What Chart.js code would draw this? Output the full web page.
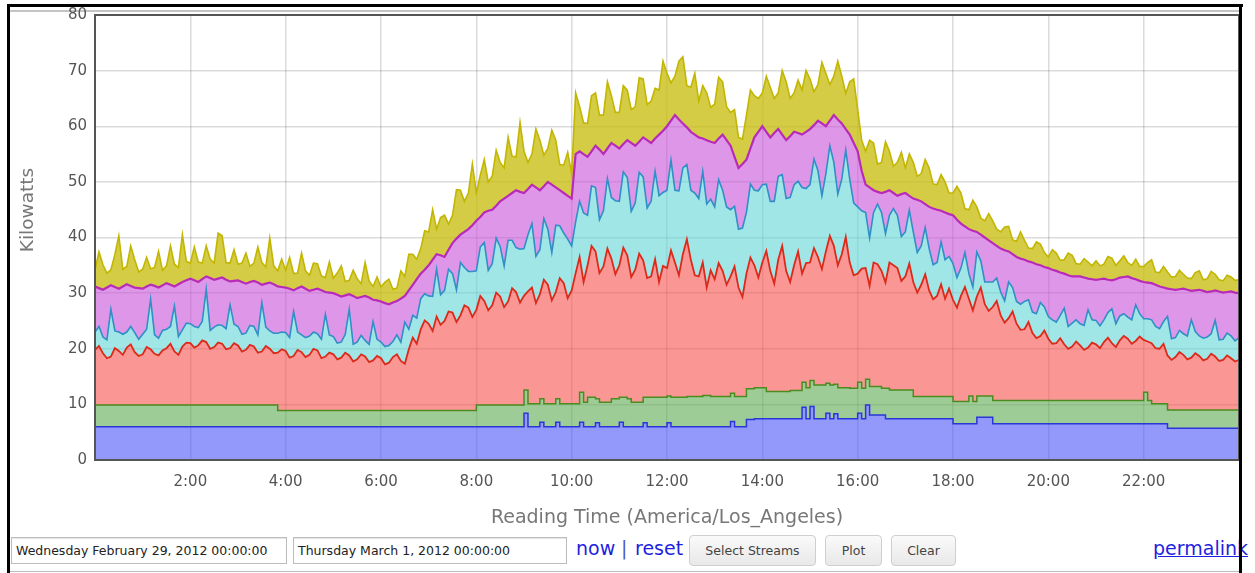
<!DOCTYPE html>
<html>
<head>
<meta charset="utf-8">
<script src="https://cdn.jsdelivr.net/npm/chart.js@4.4.1/dist/chart.umd.min.js"></script>
<style>
  body { margin: 0; background: #fff; width: 1255px; height: 573px; overflow: hidden; position: relative; font-family: "DejaVu Sans", sans-serif; }
  .bar { position: absolute; background: #000; z-index: 5; }
  #chartBox { position: absolute; left: 12px; top: 2px; }
  .field { position: absolute; top: 537px; height: 27px; box-sizing: border-box; border: 1px solid #bdbdbd; box-shadow: inset 0 1px 1px #e4e4e4;
           font: 12.5px "DejaVu Sans"; color: #222; padding: 0 0 0 4px; line-height: 25px; white-space: nowrap; overflow: hidden; }
  .lnk { position: absolute; top: 539px; font: 19px/19px "DejaVu Sans"; color: #1f1fe0; }
  .btn { position: absolute; top: 535px; height: 31px; box-sizing: border-box; border: 1px solid #cfcfcf; border-radius: 4px;
         background: linear-gradient(#fafafa, #e8e8e8); font: 12.5px "DejaVu Sans"; color: #444; display: flex; align-items: center; justify-content: center; }
</style>
</head>
<body>
<div class="bar" style="left:7px; top:4px; width:3px; height:569px;"></div>
<div class="bar" style="left:7px; top:4px; width:1236px; height:3px;"></div>
<div class="bar" style="left:1239px; top:4px; width:3px; height:569px;"></div>
<div style="position:absolute; left:10px; top:10px; width:1229px; height:2px; background:#c4c4c4;"></div>
<div style="position:absolute; left:10px; top:571px; width:1229px; height:1px; background:#bdbdbd;"></div>

<div id="chartBox"><canvas id="kwCanvas" width="1228" height="530"></canvas></div>

<div class="field" style="left:11px; width:276px;">Wednesday February 29, 2012 00:00:00</div>
<div class="field" style="left:293px; width:274px;">Thursday March 1, 2012 00:00:00</div>
<div class="lnk" style="left:576px;">now</div>
<div class="lnk" style="left:621px; color:#4a5bbf;">|</div>
<div class="lnk" style="left:635px;">reset</div>
<div class="btn" style="left:689px; width:127px;">Select Streams</div>
<div class="btn" style="left:825px; width:57px;">Plot</div>
<div class="btn" style="left:891px; width:65px;">Clear</div>
<div class="lnk" style="left:1153px; text-decoration:underline;">permalink</div>

<script>
// readings every 5 minutes, 00:00 -> 24:00 (289 samples per stream), kW
// one line per hour (12 readings)
var stepMinutes = 5;
var hours = [];
for (var i = 0; i <= 288; i++) hours.push(i * stepMinutes / 60);

var xTicks = [2, 4, 6, 8, 10, 12, 14, 16, 18, 20, 22];

var stream1 = [ // blue
  6,6,6,6,6,6,6,6,6,6,6,6,
  6,6,6,6,6,6,6,6,6,6,6,6,
  6,6,6,6,6,6,6,6,6,6,6,6,
  6,6,6,6,6,6,6,6,6,6,6,6,
  6,6,6,6,6,6,6,6,6,6,6,6,
  6,6,6,6,6,6,6,6,6,6,6,6,
  6,6,6,6,6,6,6,6,6,6,6,6,
  6,6,6,6,6,6,6,6,6,6,6,6,
  6,6,6,6,6,6,6,6,6,6,6,6,
  8.4,6,6,6,6.8,6,6,6,6.8,6,6,6,
  6,6,6.8,6,6,6,6.7,6,6,6,6,6,
  6.8,6,6,6,6,6,6.7,6,6,6,6,6,
  6.7,6,6,6,6,6,6,6,6,6,6,6,
  6,6,6,6,6.9,6,6,6,7.3,7.3,7.4,7.4,
  7.4,7.4,7.4,7.4,7.4,7.4,7.4,7.4,7.4,7.4,9.5,7.4,
  9.6,7.4,7.4,7.4,8.4,7.4,8.3,7.4,7.4,7.4,7.4,7.4,
  8.4,7.4,9.9,8.1,8.1,8.1,8.1,7.4,7.4,7.4,7.4,7.4,
  7.4,7.4,7.4,7.4,7.4,7.4,7.4,7.4,7.4,7.4,7.4,7.4,
  6.5,6.5,6.5,6.5,6.5,6.5,7.7,7.7,7.7,7.7,6.5,6.5,
  6.5,6.5,6.5,6.5,6.5,6.5,6.5,6.5,6.5,6.5,6.5,6.5,
  6.5,6.5,6.5,6.5,6.5,6.5,6.5,6.5,6.5,6.5,6.5,6.5,
  6.5,6.5,6.5,6.5,6.5,6.5,6.5,6.5,6.5,6.5,6.5,6.5,
  6.5,6.5,6.5,6.5,6.5,6.5,5.7,5.7,5.7,5.7,5.7,5.7,
  5.7,5.7,5.7,5.7,5.7,5.7,5.7,5.7,5.7,5.7,5.7,5.7,
  5.7
];
var stream2 = [ // green
  3.9,3.9,3.9,3.9,3.9,3.9,3.9,3.9,3.9,3.9,3.9,3.9,
  3.9,3.9,3.9,3.9,3.9,3.9,3.9,3.9,3.9,3.9,3.9,3.9,
  3.9,3.9,3.9,3.9,3.9,3.9,3.9,3.9,3.9,3.9,3.9,3.9,
  3.9,3.9,3.9,3.9,3.9,3.9,3.9,3.9,3.9,3.9,2.9,2.9,
  2.9,2.9,2.9,2.9,2.9,2.9,2.9,2.9,2.9,2.9,2.9,2.9,
  2.9,2.9,2.9,2.9,2.9,2.9,2.9,2.9,2.9,2.9,2.9,2.9,
  2.9,2.9,2.9,2.9,2.9,2.9,2.9,2.9,2.9,2.9,2.9,2.9,
  2.9,2.9,2.9,2.9,2.9,2.9,2.9,2.9,2.9,2.9,2.9,2.9,
  3.9,3.9,3.9,3.9,3.9,3.9,3.9,3.9,3.9,3.9,3.9,3.9,
  4.2,4.1,4.1,4.1,4.2,4.1,4.1,4.1,4.2,4.1,4.1,4.1,
  4.1,4.1,5.4,4.4,5.3,5.3,4.3,4.4,4.4,4.4,5.0,5.0,
  4.5,5.3,5.0,4.4,4.4,4.4,4.6,5.3,5.3,5.3,5.3,5.3,
  4.8,5.3,5.3,5.3,5.3,5.4,5.4,5.4,5.4,5.6,5.6,5.4,
  5.4,5.4,5.4,5.4,5.1,5.4,5.4,5.4,5.5,5.5,5.6,5.6,
  5.6,4.9,4.9,4.9,4.9,4.9,4.9,5.1,5.1,5.1,4.5,5.6,
  4.7,6.1,6.1,6.1,5.4,6.1,5.3,5.6,5.6,5.6,5.5,5.5,
  5.6,5.5,4.6,5.1,5.1,5.1,4.8,5.5,5.2,5.2,5.2,5.2,
  5.2,5.2,4.0,4.0,4.0,4.0,4.0,4.0,4.0,4.0,4.0,4.0,
  4.0,4.0,4.0,4.0,5.0,4.0,3.8,3.8,3.8,3.8,4.2,4.2,
  4.2,4.2,4.2,4.2,4.2,4.2,4.2,4.2,4.2,4.2,4.2,4.2,
  4.2,4.2,4.2,4.2,4.2,4.2,4.2,4.2,4.2,4.2,4.2,4.2,
  4.2,4.2,4.2,4.2,4.2,4.2,4.2,4.2,4.2,4.2,4.2,4.2,
  5.7,4.2,3.6,3.6,3.6,3.6,3.3,3.3,3.3,3.3,3.3,3.3,
  3.3,3.3,3.3,3.3,3.3,3.3,3.3,3.3,3.3,3.3,3.3,3.3,
  3.3
];
var stream3 = [ // red
  9.9,10.6,9.3,8.4,8.7,10.2,9.7,9.0,10.3,10.9,9.5,8.8,
  9.1,10.4,10.0,9.2,8.9,9.8,10.2,11.0,9.6,9.0,10.5,11.2,
  11.1,10.3,10.7,11.6,11.3,10.1,10.4,11.2,11.0,10.0,10.2,11.1,
  10.7,9.6,9.9,10.8,10.5,9.4,9.6,10.6,10.1,9.3,10.4,11.0,
  10.7,9.5,9.8,10.9,10.5,9.6,10.0,11.1,10.8,9.4,9.7,10.4,
  10.1,9.2,9.5,10.4,9.9,8.8,9.2,10.1,9.7,8.7,9.0,9.8,
  9.4,8.3,8.6,9.6,10.1,8.9,8.4,11.0,13.1,12.0,14.6,16.2,
  15.6,14.3,16.9,15.4,16.1,17.8,17.6,15.9,17.1,18.9,18.5,16.8,
  17.1,19.6,18.7,17.0,17.9,20.2,19.5,17.6,18.6,21.0,20.3,18.4,
  16.9,20.2,20.9,18.1,18.8,22.3,21.4,18.6,19.2,22.6,21.7,19.0,
  20.4,23.5,24.3,21.6,23.7,27.2,26.5,23.2,24.4,27.6,25.2,22.4,
  23.7,26.9,25.8,22.5,23.8,26.7,24.6,21.4,21.7,24.8,20.7,23.6,
  23.0,26.4,24.2,21.9,25.7,28.3,24.6,21.8,21.6,23.9,19.4,22.7,
  21.1,24.0,22.6,20.1,21.0,23.4,19.6,17.9,20.7,23.6,22.0,19.8,
  22.5,25.3,21.7,19.4,23.7,26.2,21.7,19.5,22.5,25.0,19.5,22.4,
  21.2,24.6,23.0,20.8,23.7,26.8,24.9,22.0,24.0,27.1,22.6,20.3,
  19.5,21.5,20.0,18.1,22.3,22.0,21.1,19.0,22.9,22.4,21.9,19.6,
  20.4,22.7,20.6,18.7,20.1,22.0,19.1,17.5,18.1,20.2,17.6,19.4,
  18.3,16.9,19.0,20.6,17.5,16.4,17.9,19.5,16.5,15.3,16.8,17.9,
  15.3,14.0,14.8,16.0,13.8,12.7,12.8,14.1,12.1,11.2,11.6,12.6,
  11.1,10.2,10.3,11.2,10.1,9.3,9.7,10.6,9.9,9.1,9.5,10.4,
  10.1,9.4,10.5,11.3,10.3,9.6,10.8,11.6,11.1,10.2,10.7,11.5,
  9.4,10.6,10.9,10.0,9.9,10.8,9.8,9.0,9.5,10.4,9.9,9.1,
  9.4,10.2,9.7,8.9,9.2,10.1,9.6,8.8,9.0,9.8,9.3,8.7,
  9.0
];
var stream4 = [ // cyan
  3.2,3.5,2.9,3.3,8.5,3.1,3.4,3.7,2.8,3.2,3.5,3.0,
  3.6,3.2,9.0,3.4,3.1,3.6,3.4,3.1,8.2,3.3,3.0,3.5,
  3.5,3.8,3.2,3.4,9.5,3.3,3.6,3.2,3.3,3.7,7.8,3.4,
  3.4,3.1,3.0,3.5,3.6,3.2,8.8,3.4,3.2,3.6,3.5,3.1,
  3.3,3.6,8.0,3.2,3.1,3.5,3.4,3.0,3.0,3.4,7.6,3.2,
  3.2,2.9,2.8,3.3,8.3,3.1,3.1,3.4,2.9,3.2,7.0,3.0,
  2.9,3.2,3.1,2.8,3.5,3.4,7.5,3.6,4.0,4.6,5.5,4.8,
  5.0,6.2,8.5,5.4,5.5,7.6,7.0,5.8,9.5,6.8,6.5,8.2,
  7.0,8.8,10.5,7.2,7.5,9.8,9.0,7.4,11.0,8.6,8.0,9.6,
  8.5,10.2,11.5,8.4,8.0,11.0,10.0,8.6,12.0,9.4,9.0,10.6,
  8.0,9.2,10.0,12.4,9.0,10.8,11.5,9.6,10.0,12.6,11.0,13.2,
  11.5,13.6,14.0,11.8,12.0,14.6,15.0,12.6,13.5,15.8,15.5,13.2,
  14.0,16.2,13.0,15.2,15.5,13.4,12.5,14.8,14.0,16.4,15.0,12.8,
  13.0,15.0,14.5,14.0,12.0,10.8,10.5,12.4,11.0,13.2,13.5,15.6,
  14.0,12.0,12.5,14.8,15.0,12.8,13.0,15.2,14.5,12.6,15.5,13.4,
  14.0,16.0,15.5,13.2,14.0,16.2,15.0,12.8,13.5,15.6,15.0,13.0,
  12.0,10.4,10.0,8.6,9.0,10.8,10.5,8.8,8.5,10.2,9.5,8.0,
  8.0,9.6,9.0,7.2,7.0,8.4,7.5,6.2,6.0,7.6,7.0,5.8,
  6.5,5.4,5.0,6.2,4.5,4.2,8.0,4.8,4.0,5.2,4.5,4.1,
  4.2,3.9,6.5,4.3,4.0,4.6,5.0,4.0,3.8,4.4,6.0,4.2,
  4.0,4.3,3.8,4.1,6.5,4.0,4.2,3.9,3.9,4.4,6.8,4.1,
  4.3,4.0,4.0,4.5,6.2,4.2,4.4,4.0,3.9,4.3,6.5,4.1,
  3.8,4.1,4.2,3.9,3.6,4.0,7.0,3.8,3.5,3.9,3.8,4.2,
  6.8,3.9,3.6,4.0,3.9,3.6,6.5,3.8,3.7,4.0,4.0,3.7,
  4.0
];
var stream5 = [ // violet
  8.2,6.9,8.5,9.4,4.3,7.9,7.8,8.6,8.6,7.3,8.1,9.2,
  8.2,7.7,2.6,8.8,9.1,8.1,8.3,7.5,3.5,9.4,8.6,7.7,
  8.1,8.3,8.2,7.6,2.3,9.4,8.5,8.3,8.6,8.8,4.2,7.8,
  8.3,9.4,8.9,7.8,8.2,9.4,3.2,7.8,8.7,8.8,8.4,8.1,
  8.1,8.8,3.8,7.9,8.7,8.8,8.1,7.6,8.1,8.8,4.0,7.6,
  7.8,8.7,8.2,7.0,2.7,8.7,7.9,6.9,8.0,8.4,3.9,7.0,
  7.3,7.8,7.4,7.0,6.1,7.8,4.7,7.0,5.5,7.0,4.5,4.3,
  5.5,6.6,2.7,7.1,6.0,3.5,5.5,9.2,5.0,6.4,7.6,8.3,
  9.0,5.4,5.4,10.7,9.7,5.8,8.1,12.1,8.0,8.5,10.3,10.3,
  10.0,8.2,7.0,12.4,10.7,5.8,8.5,12.2,6.8,6.4,7.2,7.8,
  8.5,12.2,9.0,10.6,10.5,6.2,7.5,12.6,10.2,5.4,9.8,9.9,
  9.5,5.0,6.7,12.3,10.3,5.5,7.1,12.2,10.5,5.9,11.0,11.1,
  11.5,7.1,13.5,12.8,8.0,6.7,10.5,10.5,11.0,5.9,11.5,10.3,
  11.5,7.4,10.0,12.0,11.5,8.9,11.0,11.5,9.5,6.4,9.5,10.6,
  10.5,9.4,11.5,12.3,8.5,7.2,10.5,11.0,9.5,8.7,9.5,10.2,
  10.0,6.1,9.0,13.0,8.5,4.5,8.5,13.4,10.0,3.8,8.0,10.8,
  10.0,7.2,5.0,9.1,4.0,2.2,3.5,7.5,4.5,2.8,3.5,7.6,
  7.0,2.6,6.0,9.5,8.0,4.2,7.5,10.1,9.5,5.6,8.5,7.6,
  8.7,10.4,8.0,4.7,8.0,10.1,3.6,4.7,8.0,7.5,7.0,5.8,
  7.8,9.1,5.5,6.0,8.0,8.2,7.5,6.9,8.9,8.9,6.7,7.2,
  8.7,9.0,9.2,7.7,6.2,9.2,8.4,7.8,8.5,8.6,5.6,7.3,
  7.3,8.4,7.4,5.9,5.1,8.0,6.9,6.6,7.3,7.5,4.6,5.9,
  6.6,6.5,6.6,7.5,7.6,6.1,5.0,8.9,8.6,7.4,8.1,8.3,
  5.2,7.4,8.3,8.5,8.1,7.6,5.4,8.7,8.4,7.4,8.0,8.7,
  8.0
];
var stream6 = [ // yellow
  3.0,6.5,4.5,2.6,2.8,5.8,9.5,3.1,3.2,7.2,5.0,2.9,
  3.5,5.2,2.9,3.3,6.5,2.7,3.1,7.0,4.0,3.0,8.5,3.4,
  2.8,6.0,3.6,2.9,5.5,3.4,3.0,8.2,7.5,3.1,3.3,5.6,
  2.9,3.4,5.5,2.8,3.2,6.4,4.0,3.0,8.0,3.3,2.8,5.0,
  3.1,5.6,3.0,2.7,6.0,3.2,2.8,4.8,4.5,2.6,2.6,5.5,
  2.7,3.9,5.5,2.5,2.5,4.6,3.5,2.4,6.0,3.0,2.4,4.2,
  2.6,3.8,4.5,2.4,2.3,5.0,3.5,6.5,5.5,3.6,4.5,7.0,
  6.0,9.0,4.5,6.8,7.5,4.6,5.0,8.8,8.0,5.5,6.5,11.0,
  5.0,7.5,9.5,5.2,6.0,10.0,7.0,5.5,10.5,6.6,6.0,12.5,
  7.5,4.8,5.5,10.5,9.0,5.6,6.0,9.8,8.5,4.6,5.0,7.8,
  4.5,11.0,8.0,5.6,6.0,10.0,9.5,6.2,7.0,12.0,8.5,6.0,
  6.5,10.5,9.0,6.0,7.0,11.5,10.5,6.4,7.5,9.0,8.0,12.5,
  9.5,6.8,7.0,10.5,12.0,7.5,8.0,11.0,6.5,9.5,8.5,6.2,
  7.0,11.0,9.5,6.0,6.0,8.5,5.5,4.5,8.0,10.5,7.5,6.0,
  6.0,10.0,9.0,6.2,6.5,11.5,10.5,6.8,7.0,9.5,8.0,11.0,
  9.0,6.0,6.5,11.0,9.5,6.5,7.0,10.5,8.5,6.4,9.5,11.5,
  7.5,5.5,6.0,8.5,8.5,5.0,5.5,9.0,7.0,4.8,6.0,7.5,
  4.5,7.5,6.5,4.2,5.0,8.0,7.0,4.4,4.5,6.5,5.5,3.8,
  4.0,6.0,5.5,3.2,3.5,5.5,4.5,3.0,3.0,4.8,4.0,3.0,
  3.0,4.2,4.5,2.6,2.8,4.8,3.5,2.4,2.5,4.0,3.8,2.6,
  2.0,3.6,3.2,2.2,2.5,4.0,3.8,2.3,2.2,3.4,3.0,2.4,
  3.4,2.4,2.6,4.2,4.0,2.5,3.0,3.8,2.5,2.3,3.6,2.6,
  2.8,3.6,4.2,2.3,2.5,3.8,3.0,2.2,2.4,3.4,2.6,2.1,
  2.2,3.2,3.4,2.0,2.4,3.6,2.9,2.1,2.1,3.0,2.6,2.2,
  2.4
];

var streams     = [stream1, stream2, stream3, stream4, stream5, stream6];
var lineColors  = ["#2a36d8", "#4b8c1e", "#dc2a1a", "#2f8fc6", "#b82ab8", "#c2b600"];
var fillColors  = ["rgba(75,85,247,0.6)", "rgba(93,170,80,0.6)", "rgba(247,80,77,0.6)",
                   "rgba(97,213,213,0.6)", "rgba(200,80,217,0.6)", "rgba(200,190,15,0.78)"];
var lineWidths  = [1.5, 1.5, 1.8, 1.6, 2.2, 1.6];
var isStepped   = [true, true, false, false, false, false];

var fontFamily = '"DejaVu Sans", sans-serif';

// y axis title sits a bit above the middle of the axis in the original
var yTitlePlugin = {
    id: 'yTitle',
    afterDraw: function(chart) {
        var ctx = chart.ctx;
        ctx.save();
        ctx.translate(16, 208);
        ctx.rotate(-Math.PI / 2);
        ctx.font = '18.5px ' + fontFamily;
        ctx.fillStyle = '#777';
        ctx.textAlign = 'center';
        ctx.textBaseline = 'middle';
        ctx.fillText('Kilowatts', 0, 0);
        ctx.restore();
    }
};

// dark frame around the plot area, drawn over the series
var plotBorderPlugin = {
    id: 'plotBorder',
    afterDatasetsDraw: function(chart) {
        var a = chart.chartArea, ctx = chart.ctx;
        ctx.save();
        ctx.strokeStyle = '#555';
        ctx.lineWidth = 2;
        ctx.strokeRect(a.left, a.top, a.right - a.left, a.bottom - a.top);
        ctx.restore();
    }
};

var datasets = streams.map(function(s, k) {
    return {
        data: hours.map(function(h, i) { return {x: h, y: s[i]}; }),
        borderColor: lineColors[k],
        backgroundColor: fillColors[k],
        borderWidth: lineWidths[k],
        fill: k === 0 ? 'origin' : '-1',
        stepped: isStepped[k],
        tension: 0,
        pointRadius: 0
    };
});

var canvas = document.getElementById("kwCanvas");
new Chart(canvas, {
    type: 'line',
    plugins: [yTitlePlugin, plotBorderPlugin],
    data: { datasets: datasets },
    options: {
        responsive: false,
        animation: false,
        layout: { padding: { top: 13, right: 1, left: 0, bottom: 0 } },
        plugins: { legend: { display: false }, tooltip: { enabled: false } },
        scales: {
            x: {
                type: 'linear', min: 0, max: 24,
                afterFit: function(scale) { scale.height = 72; scale.paddingLeft = 0; scale.paddingRight = 0; },
                afterBuildTicks: function(scale) {
                    scale.ticks = [0].concat(xTicks, [24]).map(function(v) { return {value: v}; });
                },
                ticks: {
                    padding: 13, color: '#555', maxRotation: 0, autoSkip: false,
                    font: { family: fontFamily, size: 15 },
                    callback: function(v) { return xTicks.indexOf(v) >= 0 ? v + ':00' : ''; }
                },
                grid: { color: 'rgba(0,0,0,0.14)', lineWidth: 1.5, drawTicks: false },
                border: { display: false },
                title: {
                    display: true, text: 'Reading Time (America/Los_Angeles)', color: '#777',
                    font: { family: fontFamily, size: 19 }, padding: { top: 0, bottom: 3 }
                }
            },
            y: {
                stacked: true, min: 0, max: 80,
                afterFit: function(scale) { scale.width = 83; scale.paddingTop = 0; scale.paddingBottom = 0; },
                ticks: { stepSize: 10, padding: 8, color: '#555', font: { family: fontFamily, size: 15 } },
                grid: { color: 'rgba(0,0,0,0.14)', lineWidth: 1.5, drawTicks: false },
                border: { display: false }
            }
        }
    }
});
</script>
</body>
</html>
